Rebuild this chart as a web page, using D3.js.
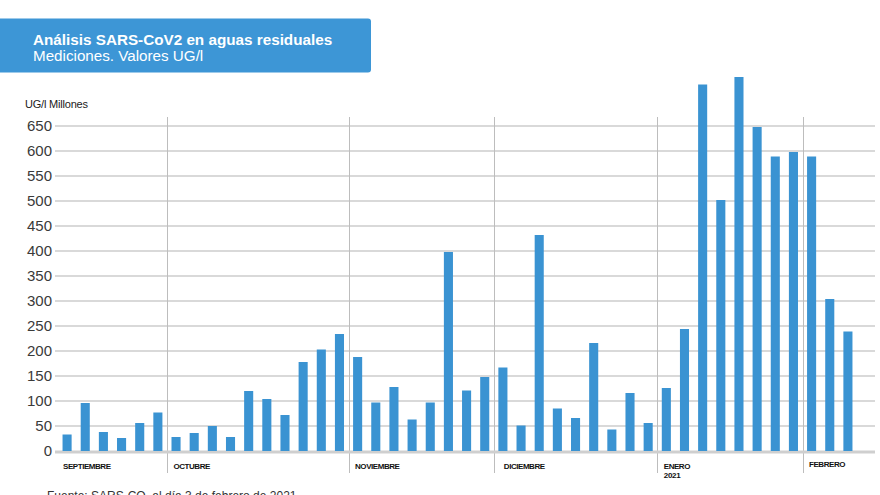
<!DOCTYPE html>
<html>
<head>
<meta charset="utf-8">
<script src="https://cdn.jsdelivr.net/npm/d3@7"></script>
<style>
  html, body { margin: 0; padding: 0; background: #fff; }
  svg { display: block; font-family: "Liberation Sans", Arial, sans-serif; }
</style>
</head>
<body>
<svg id="chart" width="880" height="495"></svg>
<script>
// ---- data (UG/l, millones) ----
const months = ["SEPTIEMBRE", "OCTUBRE", "NOVIEMBRE", "DICIEMBRE", "ENERO", "FEBRERO"];
const monthSub = ["", "", "", "", "2021", ""];
const sepValues = [33, 96, 38, 26, 56, 77];
const octValues = [28, 36, 50, 28, 120, 104, 72, 178, 203, 234];
const novValues = [188, 97, 128, 63, 97, 398, 121, 148];
const decValues = [167, 51, 432, 85, 66, 216, 43, 116, 56];
const janValues = [126, 244, 733, 502, 748, 648, 589, 598];
const febValues = [589, 304, 239];
const yTicks = [0, 50, 100, 150, 200, 250, 300, 350, 400, 450, 500, 550, 600, 650];
const title = "Análisis SARS-CoV2 en aguas residuales";
const subtitle = "Mediciones. Valores UG/l";
const yLabel = "UG/l Millones";
const source = "Fuente: SARS-CO, al día 3 de febrero de 2021";

const monthValues = [sepValues, octValues, novValues, decValues, janValues, febValues];
const bars = [];
monthValues.forEach((vals, m) => vals.forEach((v, i) => bars.push({ id: m + "-" + i, month: m, idx: i, value: v })));

const svg = d3.select("#chart");
const barColor = "#3a93d2";

// header box
svg.append("rect").attr("x", -6).attr("y", 18.5).attr("width", 377).attr("height", 54)
  .attr("rx", 3).attr("fill", "#3d96d6");
svg.append("text").attr("x", 33).attr("y", 44.5).attr("fill", "#fff")
  .attr("font-size", 15.25).attr("font-weight", "bold").text(title);
svg.append("text").attr("x", 33).attr("y", 60.5).attr("fill", "#fff")
  .attr("font-size", 15.2).text(subtitle);

// scales
const x = d3.scaleBand().domain(bars.map(d => d.id)).range([58, 857])
  .paddingInner(0.5).paddingOuter(0.25);
const y = d3.scaleLinear().domain([0, 650]).range([451, 126]);
const gridX0 = 55, gridX1 = 875;

// y label
svg.append("text").attr("x", 25).attr("y", 108).attr("font-size", 11)
  .attr("fill", "#1a1a1a").attr("letter-spacing", "-0.2").text(yLabel);

// gridlines
svg.append("g").selectAll("line").data(yTicks.filter(t => t > 0)).join("line")
  .attr("x1", gridX0).attr("x2", gridX1)
  .attr("y1", d => y(d)).attr("y2", d => y(d))
  .attr("stroke", "#d9d9d9").attr("stroke-width", 2);

// month separators
const firstIds = monthValues.map((v, m) => m + "-0");
const sepX = id => x(id) - (x.step() - x.bandwidth()) / 2;
svg.append("g").selectAll("line").data(firstIds.slice(1)).join("line")
  .attr("x1", d => Math.round(sepX(d)) + 0.5).attr("x2", d => Math.round(sepX(d)) + 0.5)
  .attr("y1", 117).attr("y2", 473)
  .attr("stroke", "#bdbdbd").attr("stroke-width", 1);

// zero line
svg.append("line").attr("x1", gridX0).attr("x2", gridX1)
  .attr("y1", y(0) + 1).attr("y2", y(0) + 1)
  .attr("stroke", "#cfcfcf").attr("stroke-width", 3);

// y axis labels
const yAxis = d3.axisLeft(y).tickValues(yTicks).tickSize(0).tickPadding(3).tickFormat(d3.format("d"));
const gy = svg.append("g").attr("transform", `translate(${gridX0},0)`).call(yAxis);
gy.select(".domain").remove();
gy.selectAll("text").attr("font-size", 15).attr("fill", "#3a3a3a")
  .attr("font-family", "'Liberation Sans', Arial, sans-serif");

// bars
svg.append("g").selectAll("rect").data(bars).join("rect")
  .attr("x", d => x(d.id)).attr("width", x.bandwidth())
  .attr("y", d => y(d.value)).attr("height", d => y(0) - y(d.value))
  .attr("fill", barColor);

// month labels
svg.append("g").selectAll("text").data(months).join("text")
  .attr("x", (d, m) => m === 0 ? x(firstIds[0]) + 0.5 : sepX(firstIds[m]) + (m === 3 ? 10 : 6.5))
  .attr("y", (d, m) => m === 5 ? 467 : 469)
  .attr("font-size", 8).attr("font-weight", "bold").attr("fill", "#111")
  .attr("letter-spacing", "-0.45")
  .text(d => d);
svg.append("g").selectAll("text").data(monthSub.map((s, m) => ({ s, m })).filter(d => d.s)).join("text")
  .attr("x", d => sepX(firstIds[d.m]) + 6.5).attr("y", 478)
  .attr("font-size", 8).attr("font-weight", "bold").attr("fill", "#111")
  .attr("letter-spacing", "-0.3")
  .text(d => d.s);

// source (partially cut at bottom, as in the reference)
svg.append("text").attr("x", 47).attr("y", 500).attr("font-size", 12)
  .attr("fill", "#333").text(source);
</script>
</body>
</html>
